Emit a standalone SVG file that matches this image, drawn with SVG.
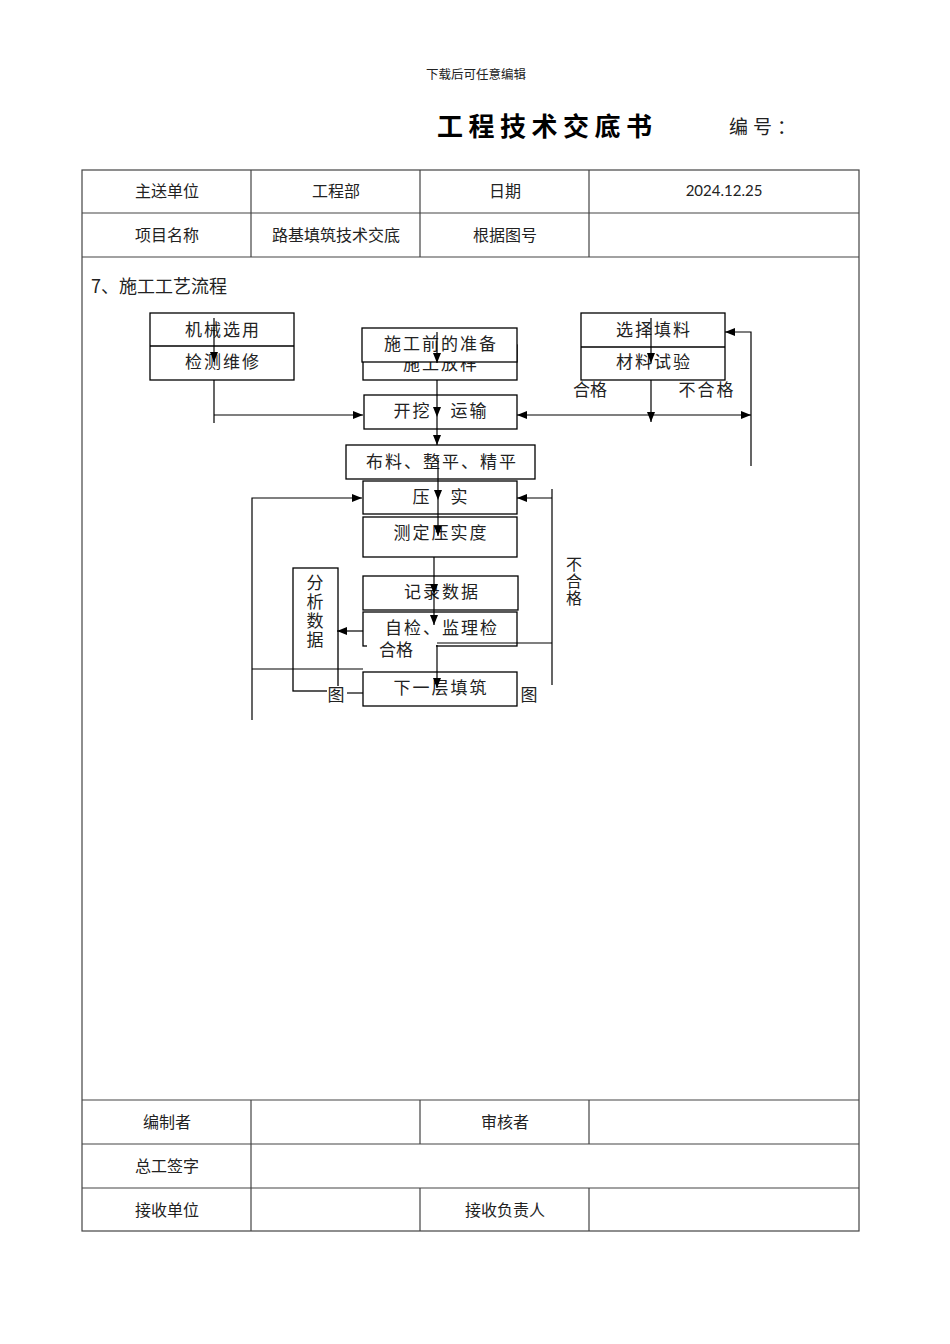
<svg xmlns="http://www.w3.org/2000/svg" width="950" height="1344" viewBox="0 0 950 1344">
<style>
.cell{font-family:"Noto Sans CJK SC","Noto Sans",sans-serif;font-size:16px;fill:#222;text-anchor:middle}
.fc{font-family:"Noto Sans CJK SC",sans-serif;font-size:17px;fill:#222;letter-spacing:2px;text-anchor:middle}
.fv{font-family:"Noto Sans CJK SC",sans-serif;font-size:17px;fill:#222;text-anchor:middle}
.vt{font-family:"Noto Sans CJK SC",sans-serif;fill:#222;writing-mode:tb;text-orientation:upright}
.grid{stroke:#444;stroke-width:1.2;fill:none}
.box{stroke:#000;stroke-width:1.3;fill:none}
.boxw{stroke:#000;stroke-width:1.3;fill:#fff}
.ln{stroke:#000;stroke-width:1.2;fill:none}
</style>
<defs>
<marker id="ah" markerWidth="10" markerHeight="8" refX="10" refY="4" orient="auto" markerUnits="userSpaceOnUse"><path d="M0,0 L10,4 L0,8 z" fill="#000"/></marker>
<marker id="ahs" markerWidth="10" markerHeight="8" refX="0" refY="4" orient="auto" markerUnits="userSpaceOnUse"><path d="M10,0 L0,4 L10,8 z" fill="#000"/></marker>
</defs>
<rect width="950" height="1344" fill="#fff"/>
<g id="header">
<text x="426" y="79" style="font-family:'Noto Sans CJK SC',sans-serif;font-size:12.5px;fill:#222">下载后可任意编辑</text>
<text x="437" y="136" style="font-family:'Noto Sans CJK SC',sans-serif;font-size:26px;font-weight:bold;letter-spacing:5.5px;fill:#000">工程技术交底书</text>
<text x="729" y="134" style="font-family:'Noto Sans CJK SC',sans-serif;font-size:19px;letter-spacing:5px;fill:#222">编号：</text>
</g>
<g id="table">
<rect class="grid" x="82" y="170" width="777" height="1061"/>
<path class="grid" d="M82 213H859M82 257H859M82 1100H859M82 1144H859M82 1188H859"/>
<path class="grid" d="M251 170V257M420 170V257M589 170V257M251 1100V1231M420 1100V1144M589 1100V1144M420 1188V1231M589 1188V1231"/>
<text class="cell" x="167" y="197">主送单位</text>
<text class="cell" x="336" y="197">工程部</text>
<text class="cell" x="505" y="197">日期</text>
<text x="724" y="196" style="font-family:Lato,'Noto Sans',sans-serif;font-size:15px;fill:#222;text-anchor:middle">2024.12.25</text>
<text class="cell" x="167" y="241">项目名称</text>
<text class="cell" x="336" y="241">路基填筑技术交底</text>
<text class="cell" x="505" y="241">根据图号</text>
<text class="cell" x="167" y="1128">编制者</text>
<text class="cell" x="505" y="1128">审核者</text>
<text class="cell" x="167" y="1172">总工签字</text>
<text class="cell" x="167" y="1216">接收单位</text>
<text class="cell" x="505" y="1216">接收负责人</text>
<text x="91" y="293" style="font-family:'Noto Sans CJK SC',sans-serif;font-size:18px;fill:#222">7、施工工艺流程</text>
</g>
<g id="n-jixie">
<rect class="box" x="150" y="313" width="144" height="67"/>
<path class="box" d="M150 346H294"/>
<text class="fc" x="223" y="336">机械选用</text>
<text class="fc" x="223" y="368">检测维修</text>
</g>
<g id="n-fangyang">
<rect class="box" x="363" y="345" width="154" height="35"/>
<text class="fc" x="441" y="370">施工放样</text>
</g>
<g id="n-zhunbei">
<rect class="boxw" x="362" y="328" width="155" height="34"/>
<text class="fc" x="441" y="350">施工前的准备</text>
</g>
<g id="n-xuanze">
<rect class="box" x="581" y="313" width="144" height="67"/>
<path class="box" d="M581 347H725"/>
<text class="fc" x="654" y="336">选择填料</text>
<text class="fc" x="654" y="368">材料试验</text>
<text class="fv" x="590" y="396">合格</text>
<text class="fc" x="707" y="396">不合格</text>
</g>
<g id="n-kaiwa">
<rect class="box" x="364" y="395" width="153" height="34"/>
<text class="fc" x="441" y="417">开挖　运输</text>
</g>
<g id="n-buliao">
<rect class="box" x="346" y="445" width="189" height="34"/>
<text class="fc" x="442" y="468">布料、整平、精平</text>
</g>
<g id="n-yashi">
<rect class="box" x="363" y="481" width="154" height="33"/>
<text class="fc" x="441" y="503">压　实</text>
</g>
<g id="n-ceding">
<rect class="box" x="363" y="517" width="154" height="40"/>
<text class="fc" x="441" y="539">测定压实度</text>
</g>
<g id="n-jilu">
<rect class="box" x="363" y="576" width="155" height="34"/>
<text class="fc" x="442" y="598">记录数据</text>
</g>
<g id="n-zijian">
<rect class="box" x="363" y="612" width="154" height="34"/>
<text class="fc" x="442" y="634">自检、监理检</text>
<rect x="367" y="644" width="69" height="16" fill="#fff"/>
<text class="fv" x="396" y="656">合格</text>
</g>
<g id="n-fenxi">
<rect class="box" x="293" y="568" width="45" height="123"/>
<text class="vt" x="315" y="574" style="font-size:17px;letter-spacing:2px">分析数据</text>
</g>
<g id="n-xiayiceng">
<rect class="box" x="363" y="672" width="154" height="34"/>
<text class="fc" x="441" y="694">下一层填筑</text>
<rect x="327" y="686" width="19" height="18" fill="#fff"/>
<text class="fv" x="336" y="701">图</text>
<text class="fv" x="529" y="701">图</text>
</g>
<g id="n-buhege">
<text class="vt" x="574" y="556" style="font-size:16px;letter-spacing:1px">不合格</text>
</g>
<g id="connectors">
<path class="ln" d="M214 318V362" marker-end="url(#ah)"/>
<path class="ln" d="M214 380V423M214 415H363" marker-end="url(#ah)"/>
<path class="ln" d="M437 332V363" marker-end="url(#ah)"/>
<path class="ln" d="M437 380V417" marker-end="url(#ah)"/>
<path class="ln" d="M437 417V445" marker-end="url(#ah)"/>
<path class="ln" d="M651 318V363" marker-end="url(#ah)"/>
<path class="ln" d="M651 380V422" marker-end="url(#ah)"/>
<path class="ln" d="M517 415H751" marker-start="url(#ahs)" marker-end="url(#ah)"/>
<path class="ln" d="M751 466V332H725" marker-end="url(#ah)"/>
<path class="ln" d="M438 458V500" marker-end="url(#ah)"/>
<path class="ln" d="M438 500V536" marker-end="url(#ah)"/>
<path class="ln" d="M252 720V498H362" marker-end="url(#ah)"/>
<path class="ln" d="M552 685V489M552 498H517" marker-end="url(#ah)"/>
<path class="ln" d="M434 557V594" marker-end="url(#ah)"/>
<path class="ln" d="M434 594V625" marker-end="url(#ah)"/>
<path class="ln" d="M437 643H552"/>
<path class="ln" d="M437 645V688" marker-end="url(#ah)"/>
<path class="ln" d="M363 631H337" marker-end="url(#ah)"/>
<path class="ln" d="M252 669H363"/>
<path class="ln" d="M347 693H363"/>
</g>
</svg>
